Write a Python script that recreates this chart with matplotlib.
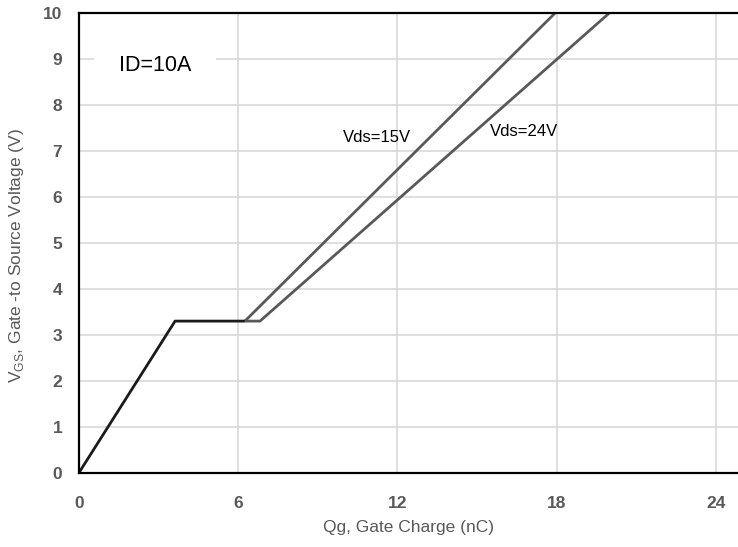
import matplotlib
matplotlib.use('Agg')
from matplotlib import pyplot as plt

plt.rcParams['font.family'] = ['Liberation Sans', 'DejaVu Sans']

# common part (charge up to end of the Miller plateau)
qg_common = [0, 3.62, 6.25]
vgs_common = [0, 3.3, 3.3]

# Vds = 15V branch
qg_15 = [6.25, 17.93]
vgs_15 = [3.3, 10]

# Vds = 24V branch
qg_24 = [6.25, 6.82, 19.97]
vgs_24 = [3.3, 3.3, 10]

x_ticks = [0, 6, 12, 18, 24]
y_ticks = list(range(0, 11))

fig = plt.figure(figsize=(7.38, 5.47), dpi=100)
ax = fig.add_axes([79 / 738, 1 - 472.7 / 547, (738 - 79) / 738, (472.7 - 13.3) / 547])

ax.plot(qg_15, vgs_15, color='#595959', lw=2, solid_capstyle='butt')
ax.plot(qg_24, vgs_24, color='#595959', lw=2, solid_capstyle='butt')
ax.plot(qg_common, vgs_common, color='#1a1a1a', lw=2, solid_capstyle='butt')

ax.set_xlim(0, 24.83)
ax.set_ylim(0, 10)
ax.set_xticks(x_ticks)
ax.set_yticks(y_ticks)
ax.grid(True, color='#d9d9d9', lw=1.2)
ax.set_axisbelow(True)

for side in ['left', 'bottom', 'top']:
    ax.spines[side].set_color('#000000')
    ax.spines[side].set_linewidth(1.6)
ax.spines['right'].set_visible(False)

ax.tick_params(length=0, labelsize=12.5, labelcolor='#595959')
ax.tick_params(axis='x', pad=17)
ax.tick_params(axis='y', pad=12)
for lbl in ax.get_xticklabels() + ax.get_yticklabels():
    lbl.set_fontweight('bold')

ax.set_xlabel('Qg, Gate Charge (nC)', fontsize=12.5, color='#595959', labelpad=6)
ax.set_ylabel('V$_{\\mathregular{GS}}$, Gate -to Source Voltage (V)', fontsize=12.5,
              color='#595959')
ax.yaxis.set_label_coords(-0.08, 0.472)

ax.text(1.51, 8.87, 'ID=10A', fontsize=15.5, va='center', ha='left',
        bbox=dict(facecolor='white', edgecolor='none', pad=18))
ax.text(9.95, 7.3, 'Vds=15V', fontsize=12, va='center', ha='left')
ax.text(15.5, 7.42, 'Vds=24V', fontsize=12, va='center', ha='left')

fig.savefig('out.png', dpi=100)
